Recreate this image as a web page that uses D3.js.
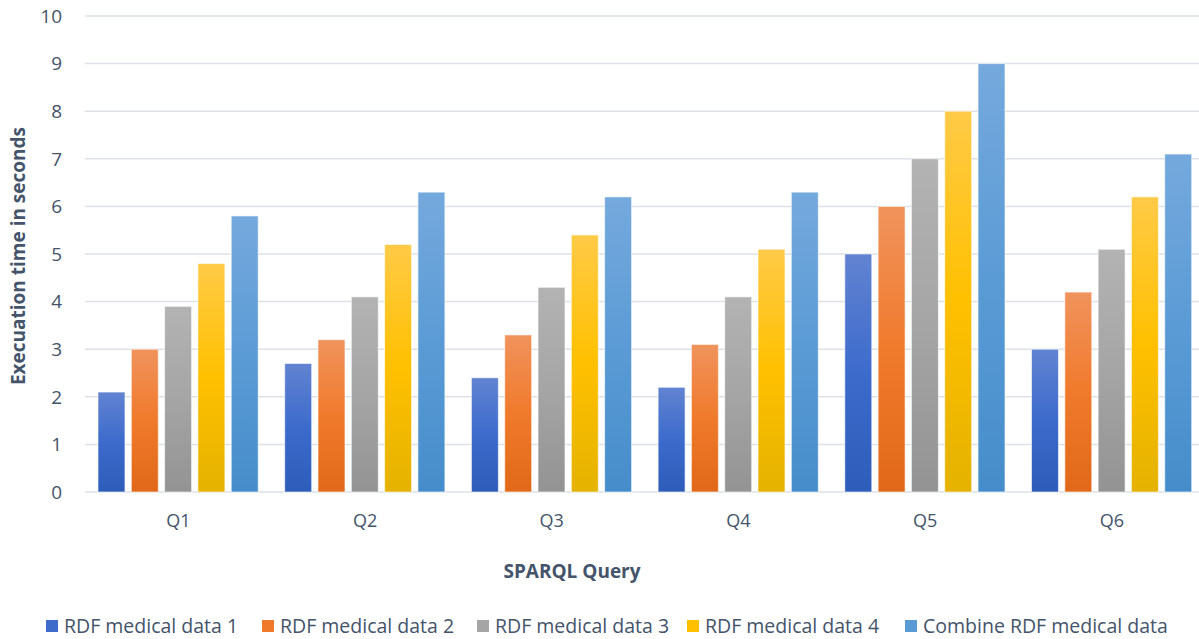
<!DOCTYPE html>
<html><head><meta charset="utf-8">
<script src="https://cdn.jsdelivr.net/npm/d3@7"></script>
<style>body{margin:0;background:#fff}svg{display:block}text{font-family:"Open Sans","Noto Sans",sans-serif}</style>
</head><body>
<svg id="c" width="1199" height="639"></svg>
<script>
const categories = ["Q1","Q2","Q3","Q4","Q5","Q6"];
const seriesNames = ["RDF medical data 1","RDF medical data 2","RDF medical data 3","RDF medical data 4","Combine RDF medical data"];
const s1 = [2.1,2.7,2.4,2.2,5.0,3.0];
const s2 = [3.0,3.2,3.3,3.1,6.0,4.2];
const s3 = [3.9,4.1,4.3,4.1,7.0,5.1];
const s4 = [4.8,5.2,5.4,5.1,8.0,6.2];
const s5 = [5.8,6.3,6.2,6.3,9.0,7.1];
const yTicks = [0,1,2,3,4,5,6,7,8,9,10];
const seriesValues = [s1,s2,s3,s4,s5];
const gradStops = [
  ["#6283d1","#3d6bcc","#2d5cb9"],
  ["#f0935d","#f07a2c","#e06818"],
  ["#b3b3b3","#a5a5a5","#939393"],
  ["#ffca47","#ffc000","#e4b200"],
  ["#75a9dd","#5b9bd5","#458dca"]
];
const legendColors = ["#3f6ccb","#f07a2c","#a5a5a5","#ffc000","#5b9bd5"];

const svg = d3.select("#c");
const margin = {left:85, top:16, bottom:492};
const plotRight = 85 + 6*186.7;
const x = d3.scaleBand().domain(categories).range([margin.left, plotRight]).paddingInner(0).paddingOuter(0);
const y = d3.scaleLinear().domain([0,10]).range([margin.bottom, margin.top]);
const xs = d3.scaleBand().domain(d3.range(5)).range([13, 173.2]).paddingInner(0.19);

const defs = svg.append("defs");
gradStops.forEach((st,i)=>{
  const g = defs.append("linearGradient").attr("id","g"+i).attr("x1",0).attr("y1",0).attr("x2",0).attr("y2",1);
  g.append("stop").attr("offset","0%").attr("stop-color",st[0]);
  g.append("stop").attr("offset","50%").attr("stop-color",st[1]);
  g.append("stop").attr("offset","100%").attr("stop-color",st[2]);
});

// gridlines
svg.append("g").selectAll("line").data(yTicks).join("line")
  .attr("x1",margin.left).attr("x2",1199)
  .attr("y1",d=>y(d)).attr("y2",d=>y(d))
  .attr("stroke","#dde1e7").attr("stroke-width",1.5);

// y tick labels
svg.append("g").selectAll("text").data(yTicks).join("text")
  .attr("x",62).attr("y",d=>y(d)).attr("dy","0.36em")
  .attr("text-anchor","end").attr("font-size",19).attr("fill","#44546a")
  .text(d=>d);

// bars
const groups = svg.append("g").selectAll("g").data(categories).join("g")
  .attr("transform",d=>`translate(${x(d)},0)`);
groups.selectAll("rect").data((d,ci)=>seriesValues.map((s,si)=>({si,v:s[ci]}))).join("rect")
  .attr("x",d=>xs(d.si)).attr("width",xs.bandwidth())
  .attr("y",d=>y(d.v)).attr("height",d=>y(0)-y(d.v))
  .attr("fill",d=>`url(#g${d.si})`)
  .attr("stroke","#ffffff").attr("stroke-opacity",0.6).attr("stroke-width",1);

// x category labels
svg.append("g").selectAll("text").data(categories).join("text")
  .attr("x",d=>x(d)+x.bandwidth()/2).attr("y",527)
  .attr("text-anchor","middle").attr("font-size",18).attr("fill","#44546a")
  .text(d=>d);

// axis titles
svg.append("text").attr("x",572).attr("y",578).attr("text-anchor","middle")
  .attr("font-size",19).attr("font-weight","bold").attr("fill","#44546a").text("SPARQL Query");
svg.append("text").attr("transform","translate(25,256) rotate(-90)").attr("text-anchor","middle")
  .attr("font-size",19).attr("font-weight","bold").attr("fill","#44546a").text("Execuation time in seconds");

// legend
const legX = [46,262,477,687,905];
const leg = svg.append("g").selectAll("g").data(seriesNames).join("g")
  .attr("transform",(d,i)=>`translate(${legX[i]},633)`);
leg.append("rect").attr("x",0).attr("y",-13).attr("width",12).attr("height",12)
  .attr("fill",(d,i)=>legendColors[i]);
leg.append("text").attr("x",18).attr("y",0).attr("font-size",19.5).attr("fill","#44546a").text(d=>d);
</script>
</body></html>
